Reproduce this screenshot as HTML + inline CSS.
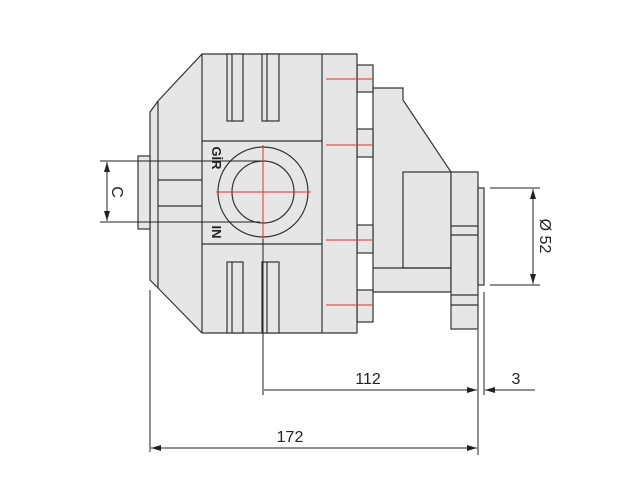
<!DOCTYPE html>
<html><head><style>html,body{margin:0;padding:0;background:#fff}svg{display:block}</style></head><body>
<svg width="640" height="480" viewBox="0 0 640 480" xmlns="http://www.w3.org/2000/svg" font-family="Liberation Sans, sans-serif">
<defs><marker id="a" viewBox="0 0 10 6" refX="10" refY="3" markerWidth="10" markerHeight="6" orient="auto-start-reverse" markerUnits="userSpaceOnUse"><path d="M0,0L10,3L0,6z" fill="#222"/></marker></defs>
<g stroke="#333" stroke-width="1.2" fill="#e6e6e6">
<polygon points="373,88 403,88 403,100 451,172 451,292 373,292"/>
<rect x="403" y="172" width="48" height="96"/>
<rect x="451" y="172" width="27" height="157"/>
<line x1="451" y1="226" x2="478" y2="226"/><line x1="451" y1="235" x2="478" y2="235"/>
<line x1="451" y1="295" x2="478" y2="295"/><line x1="451" y1="305" x2="478" y2="305"/>
<rect x="478" y="188" width="6" height="97"/>
<line x1="373" y1="268" x2="451" y2="268"/>
<rect x="357" y="65" width="16" height="27"/>
<rect x="357" y="129" width="16" height="28"/>
<rect x="357" y="225" width="16" height="28"/>
<rect x="357" y="290" width="16" height="32"/>
<polygon points="202,54 357,54 357,333 202,333 158,288 150,280 150,112 158,101"/>
<line x1="158" y1="101" x2="158" y2="288"/>
<line x1="202" y1="54" x2="202" y2="333"/>
<line x1="322" y1="54" x2="322" y2="333"/>
<line x1="202" y1="141" x2="322" y2="141"/>
<line x1="202" y1="244" x2="322" y2="244"/>
<rect x="227" y="54" width="16" height="67"/><line x1="232" y1="54" x2="232" y2="121"/>
<rect x="262" y="54" width="17" height="67"/><line x1="267" y1="54" x2="267" y2="121"/>
<rect x="227" y="262" width="16" height="71"/><line x1="232" y1="262" x2="232" y2="333"/>
<rect x="262" y="262" width="17" height="71"/><line x1="267" y1="262" x2="267" y2="333"/>
<rect x="138" y="156" width="12" height="73"/>
<line x1="158" y1="180" x2="202" y2="180"/><line x1="158" y1="206" x2="202" y2="206"/>
<circle cx="263" cy="192" r="45"/>
<circle cx="263" cy="192" r="31" fill="none"/>
</g>
<g stroke="#d33" stroke-width="1">
<line x1="216" y1="192" x2="311" y2="192"/><line x1="263" y1="145" x2="263" y2="239"/>
<line x1="326" y1="79" x2="372" y2="79"/><line x1="326" y1="145" x2="372" y2="145"/>
<line x1="326" y1="240" x2="372" y2="240"/><line x1="326" y1="305" x2="372" y2="305"/>
</g>
<g stroke="#222" stroke-width="1" fill="none">
<line x1="263" y1="239" x2="263" y2="395"/>
<line x1="100" y1="161" x2="260" y2="161"/><line x1="100" y1="222" x2="260" y2="222"/>
<line x1="107" y1="162" x2="107" y2="221" marker-start="url(#a)" marker-end="url(#a)"/>
<line x1="150" y1="290" x2="150" y2="452"/>
<line x1="478" y1="330" x2="478" y2="455"/>
<line x1="484" y1="292" x2="484" y2="395"/>
<line x1="264" y1="390" x2="477" y2="390" marker-end="url(#a)"/>
<line x1="485" y1="390" x2="535" y2="390" marker-start="url(#a)"/>
<line x1="151" y1="448" x2="477" y2="448" marker-start="url(#a)" marker-end="url(#a)"/>
<line x1="490" y1="188" x2="540" y2="188"/><line x1="490" y1="285" x2="540" y2="285"/>
<line x1="533" y1="189" x2="533" y2="284" marker-start="url(#a)" marker-end="url(#a)"/>
</g>
<g fill="#222" font-size="16">
<text x="368" y="384" text-anchor="middle">112</text>
<text x="516" y="384" text-anchor="middle">3</text>
<text x="290" y="442" text-anchor="middle">172</text>
<text transform="translate(112,192) rotate(90)" text-anchor="middle">C</text>
<text transform="translate(540,236) rotate(90)" text-anchor="middle">Ø 52</text>
<text transform="translate(212,158) rotate(90)" font-weight="bold" font-size="13" text-anchor="middle">GİR</text>
<text transform="translate(212,232) rotate(90)" font-weight="bold" font-size="13" text-anchor="middle">IN</text>
</g>
</svg>
</body></html>
